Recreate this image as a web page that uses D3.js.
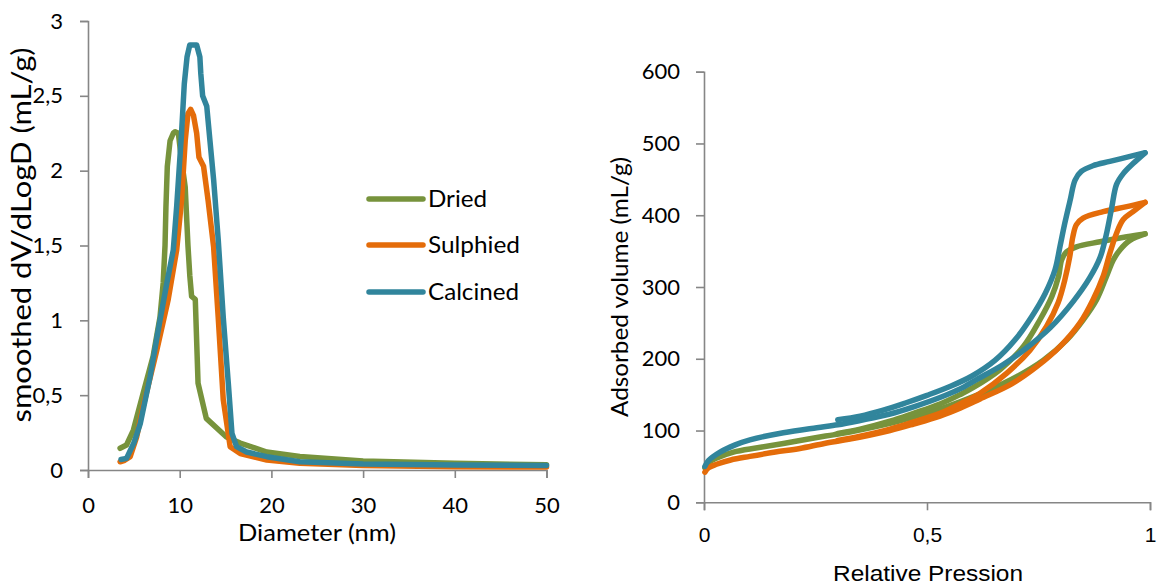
<!DOCTYPE html>
<html>
<head>
<meta charset="utf-8">
<script src="https://cdn.jsdelivr.net/npm/d3@7"></script>
<style>
  body { margin: 0; background: #fff; }
  svg { display: block; }
  text { font-family: Lato, "Open Sans", sans-serif; fill: #000; }
</style>
</head>
<body>
<div id="chart"></div>
<script>
// ---- data: pore size distribution (left) ----
const seriesNames = ["Dried", "Sulphied", "Calcined"];
const seriesColors = ["#77933C", "#E46C0A", "#31859C"];

const driedPSD = [[3.5,0.145],[4.2,0.167],[4.95,0.267],[6.0,0.51],[7.1,0.76],[7.85,1.02],[8.2,1.25],[8.4,1.5],[8.5,1.76],[8.65,2.03],[8.95,2.2],[9.3,2.25],[9.5,2.26],[9.85,2.25],[10.2,2.07],[10.6,1.89],[10.9,1.5],[11.1,1.3],[11.3,1.16],[11.7,1.14],[12.0,0.58],[12.9,0.345],[15.1,0.22],[16.6,0.18],[19.5,0.12],[23.1,0.09],[30,0.06],[40,0.045],[50,0.035]];
const sulphiedPSD = [[3.5,0.055],[4.0,0.065],[4.6,0.089],[5.3,0.22],[6.0,0.42],[7.5,0.80],[8.75,1.14],[9.67,1.47],[10.2,1.8],[10.6,2.2],[10.9,2.38],[11.2,2.41],[11.5,2.37],[11.85,2.25],[12.1,2.09],[12.6,2.03],[13.1,1.8],[13.7,1.49],[14.2,1.02],[14.75,0.47],[15.5,0.156],[16.6,0.11],[19.5,0.067],[23.1,0.045],[30,0.03],[40,0.022],[50,0.02]];
const calcinedPSD = [[3.6,0.07],[4.2,0.078],[5.0,0.18],[5.7,0.31],[6.76,0.62],[7.85,1.0],[8.6,1.25],[9.3,1.47],[9.67,1.76],[10.2,2.25],[10.5,2.58],[10.8,2.76],[11.1,2.84],[11.85,2.84],[12.2,2.76],[12.3,2.65],[12.5,2.5],[12.95,2.43],[13.3,2.2],[13.7,1.94],[14.2,1.54],[14.75,1.02],[15.3,0.58],[15.7,0.245],[16.2,0.156],[17.3,0.12],[19.5,0.089],[23.1,0.055],[30,0.04],[40,0.033],[50,0.03]];

const psdXTicks = [0, 10, 20, 30, 40, 50];
const psdYTicks = [0, 0.5, 1, 1.5, 2, 2.5, 3];

// ---- data: isotherms (right), adsorption + desorption branches ----
const driedAds = [[0.002,48],[0.01,55],[0.03,62],[0.066,70],[0.12,76],[0.178,82],[0.25,90],[0.29,94],[0.327,98],[0.417,110],[0.47,119],[0.529,130],[0.574,140],[0.634,155],[0.701,175],[0.761,198],[0.813,226],[0.85,254],[0.88,282],[0.902,314],[0.918,338],[0.933,352],[0.955,365],[0.989,374]];
const driedDes = [[0.989,374],[0.948,370],[0.888,363],[0.835,356],[0.813,349],[0.802,338],[0.795,315],[0.78,287],[0.753,254],[0.716,217],[0.664,185],[0.604,160],[0.574,150],[0.529,137],[0.47,124],[0.417,113],[0.35,102],[0.3,96]];
const sulphiedAds = [[0.002,42],[0.01,48],[0.028,53],[0.06,59],[0.103,64],[0.16,70],[0.215,75],[0.27,82],[0.327,88],[0.417,100],[0.47,109],[0.529,120],[0.574,131],[0.619,144],[0.69,165],[0.746,189],[0.798,217],[0.843,250],[0.872,282],[0.895,315],[0.91,347],[0.925,375],[0.94,394],[0.962,405],[0.989,418]];
const sulphiedDes = [[0.989,418],[0.948,412],[0.895,405],[0.85,396],[0.835,387],[0.827,370],[0.82,342],[0.809,310],[0.794,278],[0.768,245],[0.731,212],[0.679,180],[0.619,152],[0.574,137],[0.529,124],[0.47,112],[0.417,102],[0.35,92],[0.3,86]];
const calcinedAds = [[0.002,50],[0.01,58],[0.036,70],[0.07,80],[0.103,87],[0.178,97],[0.253,104],[0.3,108],[0.35,114],[0.417,123],[0.47,133],[0.529,146],[0.574,158],[0.611,171],[0.671,192],[0.723,215],[0.776,243],[0.828,280],[0.865,313],[0.888,341],[0.902,373],[0.914,410],[0.925,443],[0.94,458],[0.962,472],[0.989,487]];
const calcinedDes = [[0.989,487],[0.962,483],[0.91,475],[0.872,469],[0.846,461],[0.832,449],[0.821,421],[0.809,389],[0.798,356],[0.787,324],[0.765,291],[0.735,259],[0.697,226],[0.653,198],[0.601,176],[0.55,161],[0.5,149],[0.45,138],[0.4,128],[0.35,120],[0.3,115]];

const isoXTicks = [0, 0.5, 1];
const isoYTicks = [0, 100, 200, 300, 400, 500, 600];

const comma = d => String(d).replace(".", ",");
const axisColor = "#868686";
const arial = "'Liberation Sans', Arial, sans-serif";

const svg = d3.select("#chart").append("svg")
    .attr("width", 1160)
    .attr("height", 585);

function styleAxis(g) {
    g.select(".domain").attr("stroke", axisColor).attr("stroke-width", 1.6);
    g.selectAll(".tick line").attr("stroke", axisColor).attr("stroke-width", 1.6);
    g.selectAll("text").attr("fill", "#000").attr("font-family", null).attr("font-size", 22);
}

function label(x, y, txt, len, rotate, size, font) {
    const t = svg.append("text")
        .attr("transform", `translate(${x},${y})` + (rotate ? " rotate(-90)" : ""))
        .attr("text-anchor", "middle")
        .attr("dy", "0.35em")
        .attr("font-size", size)
        .attr("textLength", len)
        .attr("lengthAdjust", "spacingAndGlyphs")
        .text(txt);
    if (font) t.style("font-family", font);
    return t;
}

// ---------- left chart ----------
const xL = d3.scaleLinear().domain([0, 50]).range([88, 546.5]);
const yL = d3.scaleLinear().domain([0, 3]).range([470, 21]);

svg.append("g")
    .attr("transform", `translate(0,${yL(0)})`)
    .call(d3.axisBottom(xL).tickValues(psdXTicks).tickSizeOuter(0).tickSize(8).tickPadding(19).tickFormat(comma))
    .call(styleAxis);

svg.append("g")
    .attr("transform", `translate(${xL(0)},0)`)
    .call(d3.axisLeft(yL).tickValues(psdYTicks).tickSizeOuter(0).tickSize(8).tickPadding(17).tickFormat(comma))
    .call(styleAxis);

const psdLine = d3.line().x(d => xL(d[0])).y(d => yL(d[1]));
[driedPSD, sulphiedPSD, calcinedPSD].forEach((s, i) => {
    svg.append("path")
        .attr("d", psdLine(s))
        .attr("fill", "none")
        .attr("stroke", seriesColors[i])
        .attr("stroke-width", 5.5)
        .attr("stroke-linejoin", "round")
        .attr("stroke-linecap", "round");
});

label(317, 533, "Diameter (nm)", 158, false, 24);
label(22, 235, "smoothed dV/dLogD (mL/g)", 375, true, 26);

// legend
const legendY = [199, 245, 292];
const legendLen = [59, 92, 91];
seriesNames.forEach((name, i) => {
    svg.append("line")
        .attr("x1", 369).attr("x2", 423)
        .attr("y1", legendY[i]).attr("y2", legendY[i])
        .attr("stroke", seriesColors[i])
        .attr("stroke-width", 5.5)
        .attr("stroke-linecap", "round");
    svg.append("text")
        .attr("x", 428)
        .attr("y", legendY[i])
        .attr("dy", "0.35em")
        .attr("font-size", 24)
        .attr("textLength", legendLen[i])
        .attr("lengthAdjust", "spacingAndGlyphs")
        .text(name);
});

// ---------- right chart ----------
const xR = d3.scaleLinear().domain([0, 1]).range([704, 1150]);
const yR = d3.scaleLinear().domain([0, 600]).range([502.3, 71.7]);

svg.append("g")
    .attr("transform", `translate(0,${yR(0)})`)
    .call(d3.axisBottom(xR).tickValues(isoXTicks).tickSizeOuter(0).tickSize(8).tickPadding(17).tickFormat(comma))
    .call(styleAxis)
    .call(g => g.selectAll("text").attr("font-size", 21).style("font-family", arial));

svg.append("g")
    .attr("transform", `translate(${xR(0)},0)`)
    .call(d3.axisLeft(yR).tickValues(isoYTicks).tickSizeOuter(0).tickSize(8).tickPadding(16))
    .call(styleAxis);

const isoLine = d3.line().x(d => xR(d[0])).y(d => yR(d[1])).curve(d3.curveCatmullRom.alpha(0.5));
[[driedAds, driedDes], [sulphiedAds, sulphiedDes], [calcinedAds, calcinedDes]].forEach((branches, i) => {
    branches.forEach(b => {
        svg.append("path")
            .attr("d", isoLine(b))
            .attr("fill", "none")
            .attr("stroke", seriesColors[i])
            .attr("stroke-width", 5.5)
            .attr("stroke-linejoin", "round")
            .attr("stroke-linecap", "round");
    });
});

label(928, 573, "Relative Pression", 190, false, 22, arial);
label(620, 287, "Adsorbed volume (mL/g)", 260, true, 24);
</script>
</body>
</html>
